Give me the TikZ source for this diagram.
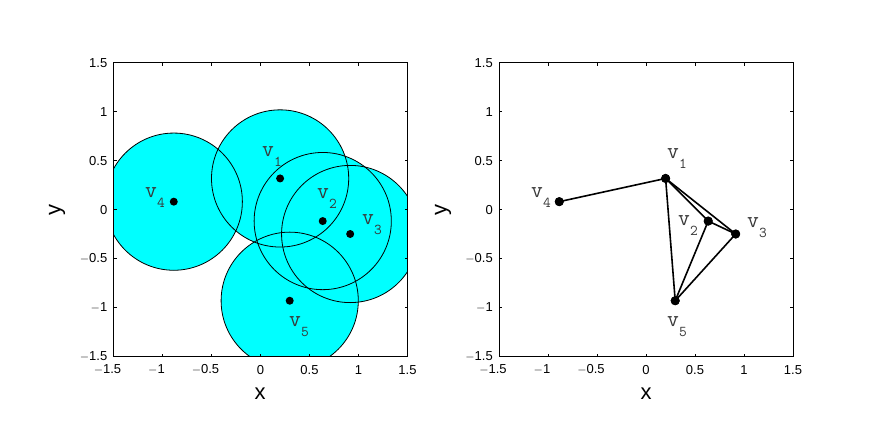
\documentclass[tikz,border=0pt]{standalone}
\usepackage{fontspec}
\setmainfont{Liberation Sans}
\definecolor{cyanfill}{RGB}{0,255,255}
\definecolor{lblgray}{RGB}{55,55,55}
\newcommand{\vlab}[1]{{\fontsize{23}{23}\selectfont v}\raisebox{-10pt}{\fontsize{15}{15}\selectfont #1}}
\begin{document}
\begin{tikzpicture}[x=1pt,y=1pt,
  ticklab/.style={font=\fontsize{13}{13}\selectfont, inner sep=0pt},
  axlab/.style={font=\fontsize{22}{22}\selectfont, inner sep=0pt},
  vlbl/.style={font=\ttfamily, text=lblgray, inner sep=0pt, anchor=base west},
  axbox/.style={line width=0.8pt},
  tick/.style={line width=0.6pt},
  circ/.style={line width=0.8pt},
  edge/.style={line width=1.6pt},
  dotL/.style={circle, fill=black, inner sep=0pt, minimum size=8pt},
  dotR/.style={circle, fill=black, inner sep=0pt, minimum size=9pt}]
\useasboundingbox (0,0) rectangle (875,436);

% ---------------- left panel ----------------
\begin{scope}[shift={(260.5,226.2)}, x=98pt, y=98pt]
  \coordinate (a1) at (0.2,0.32);
  \coordinate (a2) at (0.635,-0.115);
  \coordinate (a3) at (0.915,-0.247);
  \coordinate (a4) at (-0.885,0.083);
  \coordinate (a5) at (0.298,-0.928);
  \begin{scope}
    \clip (-1.5,-1.5) rectangle (1.5,1.5);
    \foreach \p in {a1,a2,a3,a4,a5} \fill[cyanfill] (\p) circle[radius=0.7];
    \foreach \p in {a1,a2,a3,a4,a5} \draw[circ] (\p) circle[radius=0.7];
  \end{scope}
  \draw[axbox] (-1.5,-1.5) rectangle (1.5,1.5);
  \foreach \t in {-1.5,-1,-0.5,0,0.5,1,1.5} {
    \draw[tick] (\t,-1.5) -- ++(0,3pt);
    \draw[tick] (\t,1.5) -- ++(0,-3pt);
    \draw[tick] (-1.5,\t) -- ++(3pt,0);
    \draw[tick] (1.5,\t) -- ++(-3pt,0);
  }
  \foreach \t/\s in {-1.5/$-$1.5,-1/$-$1,-0.5/$-$0.5} {
    \node[ticklab] at ([xshift=-6pt,yshift=-13pt]\t,-1.5) {\s};
  }
  \foreach \t/\s in {0/0,0.5/0.5,1/1,1.5/1.5} {
    \node[ticklab] at ([yshift=-13pt]\t,-1.5) {\s};
  }
  \foreach \t/\s in {-1.5/$-$1.5,-1/$-$1,-0.5/$-$0.5,0/0,0.5/0.5,1/1,1.5/1.5} {
    \node[ticklab, anchor=east] at ([xshift=-6pt]-1.5,\t) {\s};
  }
  \foreach \p in {a1,a2,a3,a4,a5} \node[dotL] at (\p) {};
\end{scope}
\node[axlab] (xl) at (260,42) {x};
\node[axlab, rotate=90] (yl) at (57,226) {y};
\node[vlbl] (l1) at (262,279) {\vlab{1}};
\node[vlbl] (l2) at (317,237) {\vlab{2}};
\node[vlbl] (l3) at (362,211) {\vlab{3}};
\node[vlbl] (l4) at (145,238) {\vlab{4}};
\node[vlbl] (l5) at (289,109) {\vlab{5}};

% ---------------- right panel ----------------
\begin{scope}[shift={(646,226.2)}, x=98pt, y=98pt]
  \node[dotR] (b1) at (0.2,0.32) {};
  \node[dotR] (b2) at (0.635,-0.115) {};
  \node[dotR] (b3) at (0.915,-0.247) {};
  \node[dotR] (b4) at (-0.885,0.083) {};
  \node[dotR] (b5) at (0.298,-0.928) {};
  \draw[edge] (b4.center) -- (b1.center);
  \draw[edge] (b1.center) -- (b2.center);
  \draw[edge] (b1.center) -- (b3.center);
  \draw[edge] (b1.center) -- (b5.center);
  \draw[edge] (b2.center) -- (b3.center);
  \draw[edge] (b2.center) -- (b5.center);
  \draw[edge] (b3.center) -- (b5.center);
  \foreach \p in {b1,b2,b3,b4,b5} \node[dotR] at (\p) {};
  \draw[axbox] (-1.5,-1.5) rectangle (1.5,1.5);
  \foreach \t in {-1.5,-1,-0.5,0,0.5,1,1.5} {
    \draw[tick] (\t,-1.5) -- ++(0,3pt);
    \draw[tick] (\t,1.5) -- ++(0,-3pt);
    \draw[tick] (-1.5,\t) -- ++(3pt,0);
    \draw[tick] (1.5,\t) -- ++(-3pt,0);
  }
  \foreach \t/\s in {-1.5/$-$1.5,-1/$-$1,-0.5/$-$0.5} {
    \node[ticklab] at ([xshift=-6pt,yshift=-13pt]\t,-1.5) {\s};
  }
  \foreach \t/\s in {0/0,0.5/0.5,1/1,1.5/1.5} {
    \node[ticklab] at ([yshift=-13pt]\t,-1.5) {\s};
  }
  \foreach \t/\s in {-1.5/$-$1.5,-1/$-$1,-0.5/$-$0.5,0/0,0.5/0.5,1/1,1.5/1.5} {
    \node[ticklab, anchor=east] at ([xshift=-6pt]-1.5,\t) {\s};
  }
\end{scope}
\node[axlab] (xr) at (646,42) {x};
\node[axlab, rotate=90] (yr) at (443,226) {y};
\node[vlbl] (r1) at (667,277) {\vlab{1}};
\node[vlbl] (r2) at (678,210) {\vlab{2}};
\node[vlbl] (r3) at (747,208) {\vlab{3}};
\node[vlbl] (r4) at (531,238) {\vlab{4}};
\node[vlbl] (r5) at (667,109) {\vlab{5}};
\end{tikzpicture}
\end{document}
